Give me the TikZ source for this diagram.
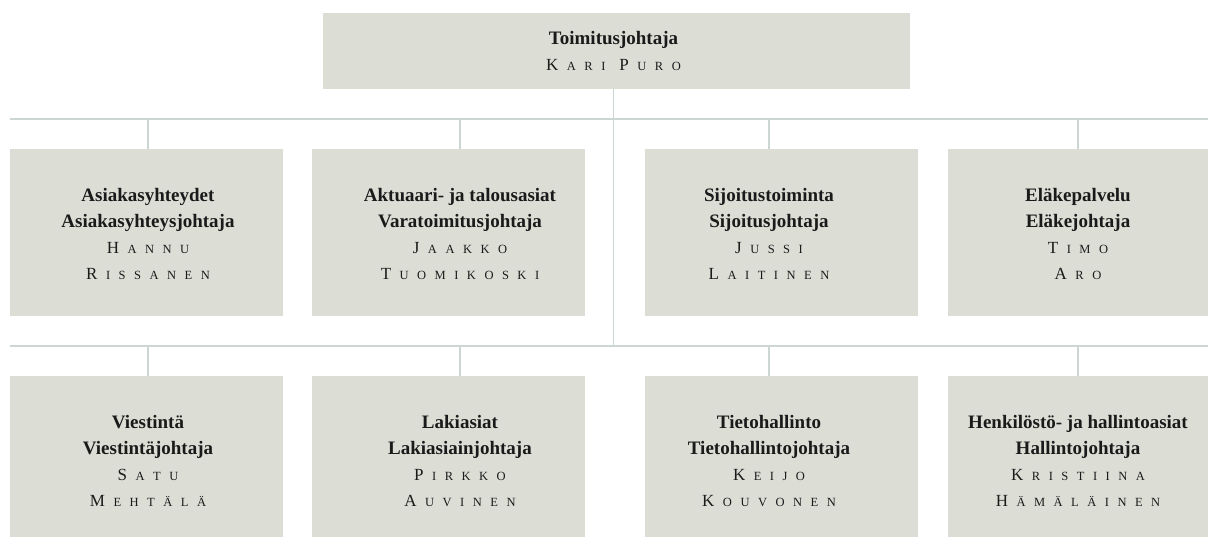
\documentclass[tikz,border=0pt]{standalone}
\usepackage{fontspec}
\setmainfont{Liberation Serif}
\definecolor{boxfill}{HTML}{DCDED6}
\definecolor{linec}{HTML}{CCD7D4}
\definecolor{txt}{HTML}{1A1A1A}
\newlength\trk \setlength\trk{8.5pt}
\def\spcl#1{\ifx#1\relax\else\kern\trk#1\expandafter\spcl\fi}
\newcommand\nm[2]{{\fontsize{17}{26}\selectfont #1}{\fontsize{12.5}{26}\selectfont\spcl#2\relax}}
\tikzset{
  box/.style={fill=boxfill, draw=none, inner sep=0pt, minimum width=273pt, minimum height=167pt},
  topbox/.style={fill=boxfill, draw=none, inner sep=0pt, minimum width=587pt, minimum height=75.7pt},
  label/.style={align=center, inner sep=0pt, text=txt, font=\fontsize{19}{26}\selectfont},
  conn/.style={draw=linec, line width=1.5pt}
}
\begin{document}
\begin{tikzpicture}[x=1pt,y=-1pt]
\useasboundingbox (0,0) rectangle (1208,537);
\clip (0,0) rectangle (1208,537);
% bus coordinates
\coordinate (h1L) at (10,119);
\coordinate (h1R) at (1208,119);
\coordinate (h2L) at (10,346);
\coordinate (h2R) at (1208,346);
% boxes
\node[topbox] (top) at (616.5,50.85) {};
\node[box] (b1) at (146.5,232.5) {};
\node[box] (b2) at (448.5,232.5) {};
\node[box] (b3) at (781.5,232.5) {};
\node[box] (b4) at (1084.5,232.5) {};
\node[box] (c1) at (146.5,459.5) {};
\node[box] (c2) at (448.5,459.5) {};
\node[box] (c3) at (781.5,459.5) {};
\node[box] (c4) at (1084.5,459.5) {};
% texts
\node[label] (ttop) at (613.5,50.9) {\textbf{Toimitusjohtaja}\\\nm{K}{ARI}\kern 14pt\nm{P}{URO}};
\node[label] (t1) at (148,234.4) {\textbf{Asiakasyhteydet}\\\textbf{Asiakasyhteysjohtaja}\\\nm{H}{ANNU}\\\nm{R}{ISSANEN}};
\node[label] (t2) at (460,234.4) {\textbf{Aktuaari- ja talousasiat}\\\textbf{Varatoimitusjohtaja}\\\nm{J}{AAKKO}\\\nm{T}{UOMIKOSKI}};
\node[label] (t3) at (769,234.4) {\textbf{Sijoitustoiminta}\\\textbf{Sijoitusjohtaja}\\\nm{J}{USSI}\\\nm{L}{AITINEN}};
\node[label] (t4) at (1078,234.4) {\textbf{Eläkepalvelu}\\\textbf{Eläkejohtaja}\\\nm{T}{IMO}\\\nm{A}{RO}};
\node[label] (s1) at (148,461.4) {\textbf{Viestintä}\\\textbf{Viestintäjohtaja}\\\nm{S}{ATU}\\\nm{M}{EHTÄLÄ}};
\node[label] (s2) at (460,461.4) {\textbf{Lakiasiat}\\\textbf{Lakiasiainjohtaja}\\\nm{P}{IRKKO}\\\nm{A}{UVINEN}};
\node[label] (s3) at (769,461.4) {\textbf{Tietohallinto}\\\textbf{Tietohallintojohtaja}\\\nm{K}{EIJO}\\\nm{K}{OUVONEN}};
\node[label] (s4) at (1078,461.4) {\textbf{Henkilöstö- ja hallintoasiat}\\\textbf{Hallintojohtaja}\\\nm{K}{RISTIINA}\\\nm{H}{ÄMÄLÄINEN}};
% connectors
\draw[conn] (h1L) -- (h1R);
\draw[conn] (h2L) -- (h2R);
\draw[conn] (ttop |- top.south) -- (ttop |- h2L);
\foreach \t/\b in {t1/b1,t2/b2,t3/b3,t4/b4} {
  \draw[conn] (\t |- h1L) -- (\t |- \b.north);
}
\foreach \t/\b in {s1/c1,s2/c2,s3/c3,s4/c4} {
  \draw[conn] (\t |- h2L) -- (\t |- \b.north);
}
\end{tikzpicture}
\end{document}
